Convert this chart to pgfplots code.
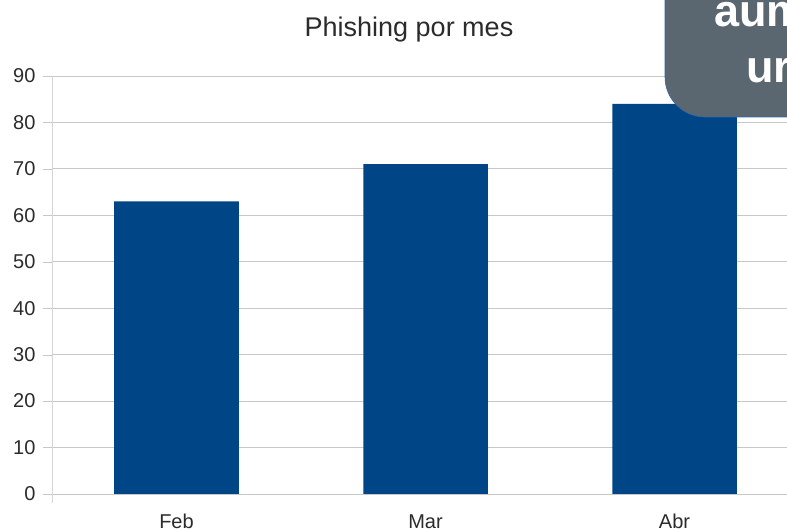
\documentclass[border=0pt]{standalone}
\usepackage{pgfplots}
\pgfplotsset{compat=1.18}
\usepackage{fontspec}
\setmainfont{Liberation Sans}
\definecolor{barblue}{HTML}{004586}
\definecolor{gridgray}{HTML}{C8C8C8}
\definecolor{axgray}{HTML}{D4D4D4}
\definecolor{txt}{HTML}{2B2B2B}
\definecolor{boxgray}{HTML}{5B6770}
\definecolor{boxedge}{HTML}{3465A4}
\begin{document}
\begin{tikzpicture}
\useasboundingbox (0pt,0pt) rectangle (787pt,529pt);
\clip (0pt,0pt) rectangle (787pt,529pt);
\begin{axis}[
  scale only axis,
  width=747pt, height=418pt,
  at={(52pt,35pt)}, anchor=south west,
  xmin=-0.5, xmax=2.5,
  ymin=0, ymax=90,
  ytick={0,10,...,90},
  xtick={0,1,2},
  xticklabels={Feb,Mar,Abr},
  extra x ticks={0.5,1.5},
  extra x tick labels={},
  extra x tick style={major tick length=9pt, tick style={draw=axgray}},
  x tick style={draw=none},
  y tick style={draw=gridgray},
  tick align=outside,
  major tick length=9pt,
  axis x line*=bottom,
  axis y line*=left,
  x axis line style={draw=gridgray,-},
  y axis line style={draw=axgray,-},
  ymajorgrids,
  grid style={draw=gridgray, line width=0.8pt},
  /pgf/number format/assume math mode=true,
  tick label style={font=\fontsize{20}{22}\selectfont, text=txt},
  yticklabel style={xshift=-4pt},
  xticklabel style={anchor=north, text height=15pt, text depth=0pt, yshift=-7pt},
  ybar, bar width=0.5,
  clip=false,
]
\addplot[fill=barblue, draw=none] coordinates {(0,63) (1,71) (2,84)};
\draw[axgray, line width=0.8pt] (rel axis cs:0,1) -- ([yshift=-9pt]rel axis cs:0,0);
\end{axis}
\node[font=\fontsize{27}{30}\selectfont, text=txt, anchor=base] at (409pt,492pt) {Phishing por mes};
\draw[fill=boxgray, draw=boxedge, line width=0.6pt, rounded corners=40pt] (665pt,640pt) rectangle (900pt,412pt);
\node[anchor=base west, inner sep=0pt, text=white, font=\fontsize{45}{48}\selectfont\bfseries] at (714pt,502pt) {aum};
\node[anchor=base west, inner sep=0pt, text=white, font=\fontsize{45}{48}\selectfont\bfseries] at (746pt,446pt) {ur};
\end{tikzpicture}
\end{document}
